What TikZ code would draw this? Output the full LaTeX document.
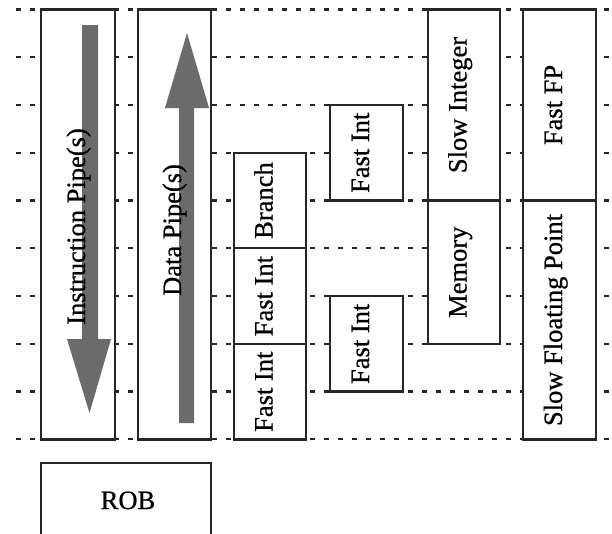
\documentclass[tikz,border=0pt]{standalone}
\usepackage{fontspec}
\setmainfont{Liberation Serif}
\newfontfamily\heavyserif[FakeBold=0.7]{Liberation Serif}
\begin{document}
\begin{tikzpicture}[x=1pt,y=-1pt,
  unitbox/.style={draw=black!85, line width=2.2pt, fill=white},
  gridline/.style={draw=black!85, line width=2.2pt, dash pattern=on 5pt off 9pt},
  lbl/.style={rotate=90, font=\heavyserif\fontsize{26.5}{30}\selectfont, text height=0.7em, text depth=0.2em, inner sep=0pt},
  pipetext/.style={rotate=90, font=\heavyserif\fontsize{26.5}{30}\selectfont, inner sep=0pt, anchor=base},
  pipe/.style={fill=black!58, draw=none}]
\useasboundingbox (0,0) rectangle (612,533);
% dashed stage lines
\foreach \k in {0,...,9}
  \draw[gridline] (16,{9.5+47.75*\k}) -- (612,{9.5+47.75*\k});
% pipe boxes
\draw[unitbox] (41,9.5) rectangle (115,439.5);
\draw[unitbox] (138,9.5) rectangle (211,439.5);
% ROB
\draw[draw=black!85, line width=2.2pt] (41,540) -- (41,463) -- (211,463) -- (211,540);
\node[font=\heavyserif\fontsize{26.5}{30}\selectfont, inner sep=0pt, anchor=base] (rob) at (128,509) {ROB};
% column 3
\draw[unitbox] (234,152.8) rectangle (306,248.3);
\draw[unitbox] (234,248.3) rectangle (306,344);
\draw[unitbox] (234,344) rectangle (306,439.5);
\node[lbl] (br) at (270,200.5) {Branch};
\node[lbl] (fi1) at (270,296.1) {Fast Int};
\node[lbl] (fi2) at (270,391.7) {Fast Int};
% column 4
\draw[unitbox] (330,105) rectangle (403,200.5);
\draw[unitbox] (330,296) rectangle (403,391.5);
\node[lbl] (fi3) at (366.5,152.8) {Fast Int};
\node[lbl] (fi4) at (366.5,343.8) {Fast Int};
% column 5
\draw[unitbox] (428,9.5) rectangle (500,200.5);
\draw[unitbox] (428,200.5) rectangle (500,343.8);
\node[lbl] (si) at (464,105) {Slow Integer};
\node[lbl] (mem) at (464,272.2) {Memory};
% column 6
\draw[unitbox] (523,9.5) rectangle (596,200.5);
\draw[unitbox] (523,200.5) rectangle (596,439.5);
\node[lbl] (ffp) at (559.5,105) {Fast FP};
\node[lbl] (sfp) at (559.5,320) {Slow Floating Point};
% arrows
\fill[pipe] (82,25) -- (98,25) -- (98,339) -- (111,339) -- (89.5,413) -- (67,339) -- (82,339) -- cycle;
\fill[pipe] (179,423) -- (194,423) -- (194,108) -- (209,108) -- (187,33) -- (165,108) -- (179,108) -- cycle;
\node[pipetext] (ip) at (85,226.5) {Instruction Pipe(s)};
\node[pipetext] (dp) at (181,230) {Data Pipe(s)};
\end{tikzpicture}
\end{document}
